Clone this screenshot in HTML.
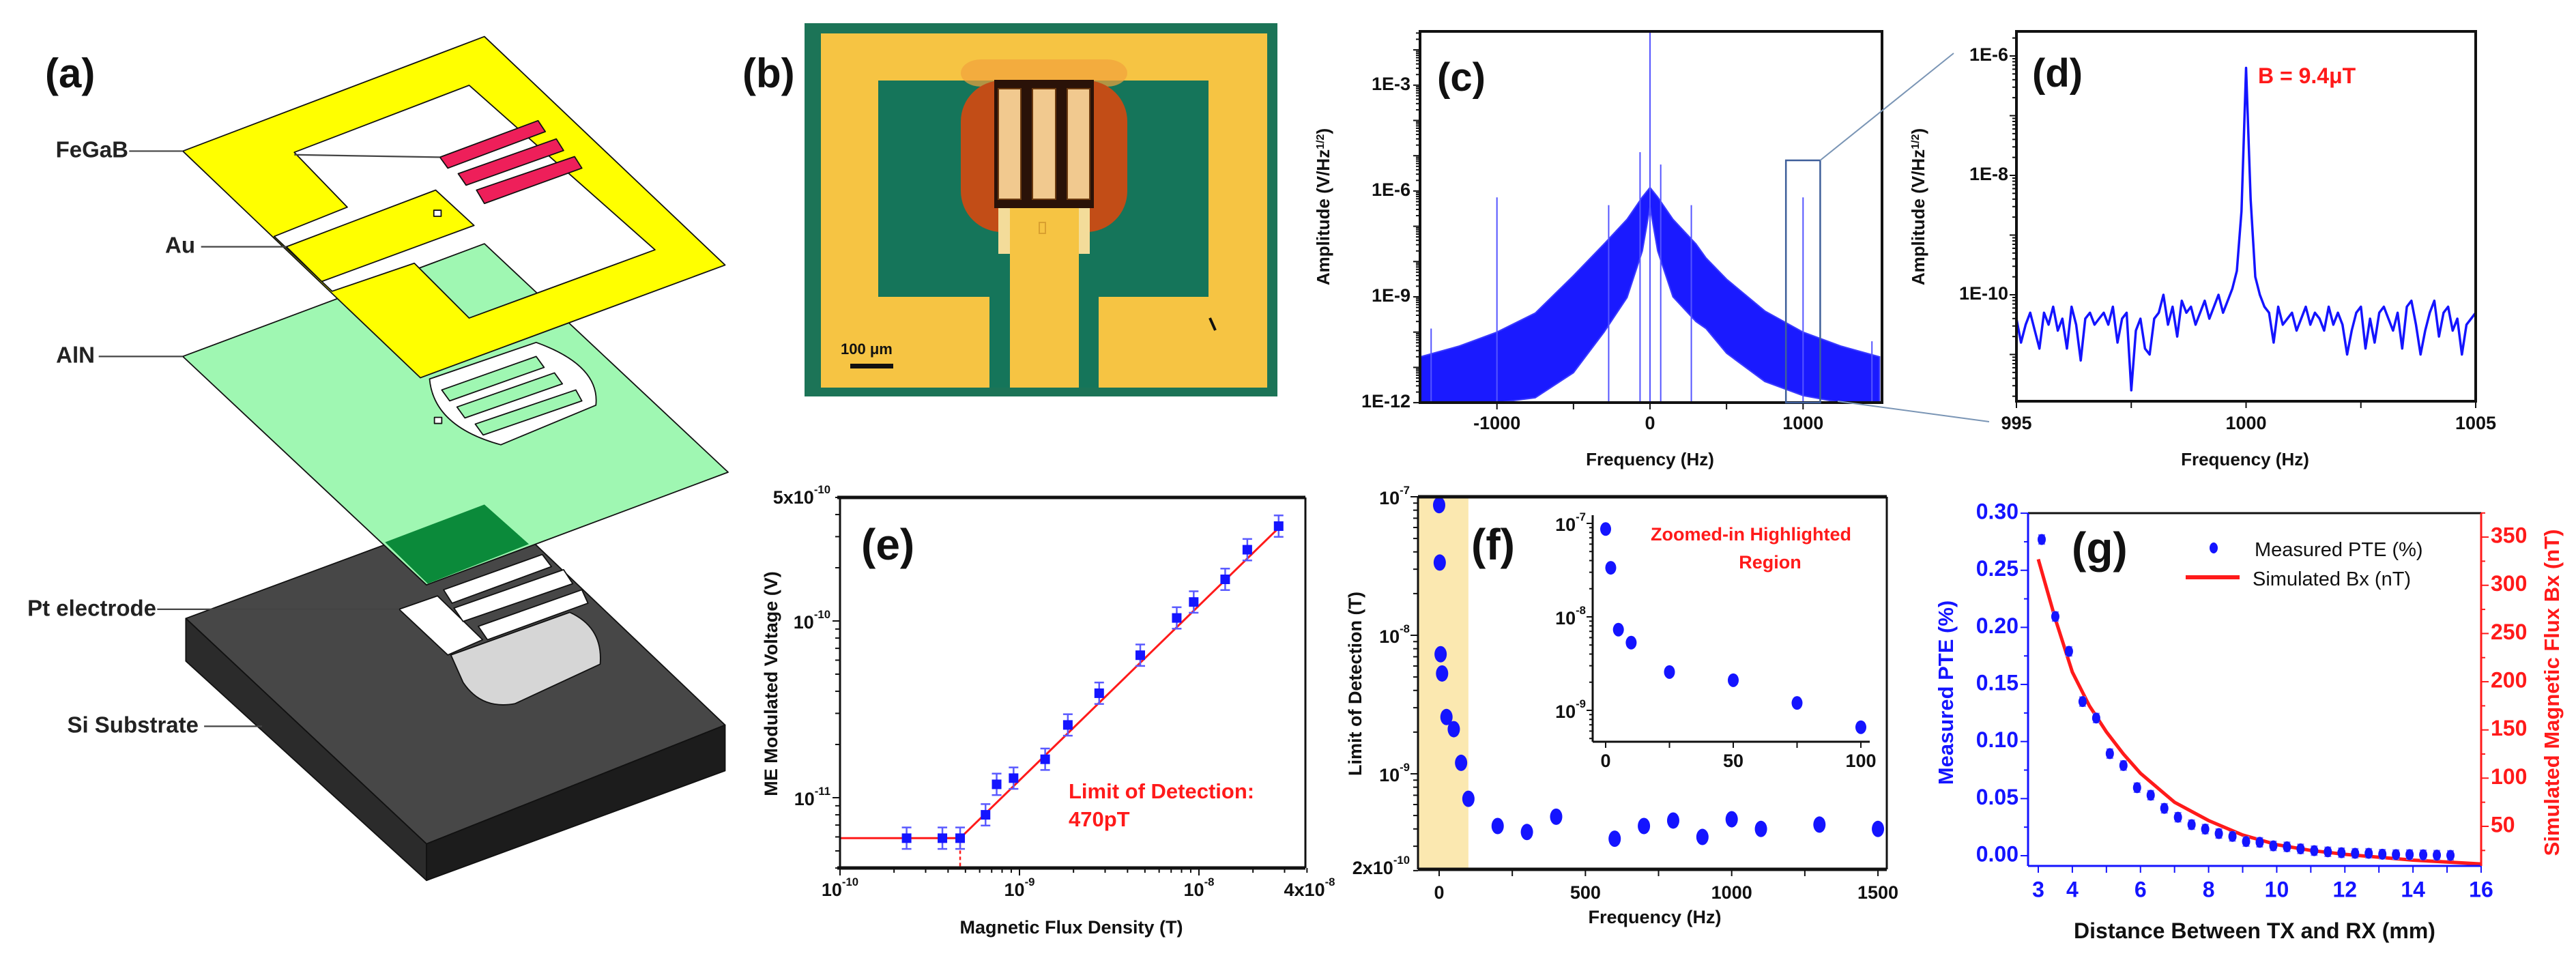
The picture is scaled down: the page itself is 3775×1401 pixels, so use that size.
<!DOCTYPE html>
<html><head><meta charset="utf-8"><style>
html,body{margin:0;padding:0;background:#fff;}
svg{display:block;}
text{font-family:"Liberation Sans",Arial,sans-serif;}
</style></head><body>
<svg id="fig" xmlns="http://www.w3.org/2000/svg" width="3775" height="1401" viewBox="0 0 3775 1401">
<rect x="0" y="0" width="3775" height="1401" fill="#fff"/>

<!-- Panel a: exploded device schematic -->
<g>
 <g transform="scale(0.8929)" stroke="#111" stroke-width="2" stroke-linejoin="round">
  <polygon points="305,1015 810,828 1190,1190 700,1385" fill="#474747"/>
  <polygon points="305,1015 700,1385 700,1445 305,1085" fill="#2b2b2b"/>
  <polygon points="700,1385 1190,1190 1190,1265 700,1445" fill="#1c1c1c"/>
  <path d="M740,1075 L935,1005 Q990,1030 985,1090 L845,1155 Q790,1165 760,1120 Z" fill="#d6d6d6"/>
  <polygon points="655,1000 718,978 792,1050 735,1075" fill="#fff"/>
  <polygon points="728,968 890,910 905,930 742,990" fill="#fff"/>
  <polygon points="745,998 925,935 940,958 760,1020" fill="#fff"/>
  <polygon points="785,1028 955,968 965,990 800,1050" fill="#fff"/>
  <polygon points="300,585 795,400 1195,775 700,960" fill="#9ff7b2"/>
  <polygon points="632,890 795,828 868,893 702,958" fill="#0b8a3a" stroke="none"/>
  <path d="M705,622 L880,562 Q985,600 978,665 L822,730 Q712,700 705,622 Z" fill="#fff"/>
  <polygon points="725,640 880,585 893,603 738,658" fill="#9ff7b2"/>
  <polygon points="750,668 910,612 923,630 763,686" fill="#9ff7b2"/>
  <polygon points="780,696 945,640 955,658 793,714" fill="#9ff7b2"/>
  <rect x="713" y="685" width="12" height="10" fill="#fff"/>
  <path fill-rule="evenodd" fill="#ffff00" d="M300,248 L795,60 L1190,435 L690,620 Z M483,250 L770,140 L1075,410 L770,522 L680,432 L545,478 L450,388 L570,340 Z"/>
  <polygon points="470,405 715,312 778,370 528,462" fill="#ffff00"/>
  <rect x="712" y="345" width="12" height="10" fill="#fff"/>
  <polygon points="722,258 883,198 895,216 735,276" fill="#ee1f5a"/>
  <polygon points="752,285 913,228 925,247 765,304" fill="#ee1f5a"/>
  <polygon points="782,312 943,257 955,276 795,334" fill="#ee1f5a"/>
  <g stroke="#444" stroke-width="2.5" fill="none">
   <line x1="212" y1="248" x2="300" y2="248"/>
   <line x1="483" y1="254" x2="722" y2="258"/>
   <line x1="330" y1="405" x2="470" y2="405"/>
   <line x1="162" y1="585" x2="300" y2="585"/>
   <line x1="258" y1="1000" x2="655" y2="1000"/>
   <line x1="335" y1="1192" x2="430" y2="1192"/>
  </g>
 </g>
 <g font-weight="bold" font-size="33" fill="#222" text-anchor="end" dominant-baseline="middle">
  <text x="188" y="222">FeGaB</text>
  <text x="286" y="362">Au</text>
  <text x="139" y="523">AlN</text>
  <text x="229" y="894">Pt electrode</text>
  <text x="291" y="1065">Si Substrate</text>
 </g>
 <text x="66" y="128" font-size="60" font-weight="bold" fill="#111">(a)</text>
</g>

<!-- Panel b: micrograph -->
<g>
 <rect x="1179" y="34" width="693" height="547" fill="#1c7457"/>
 <rect x="1203" y="49" width="654" height="519" fill="#f6c443"/>
 <rect x="1287" y="118" width="484" height="317" fill="#15755a"/>
 <rect x="1450" y="435" width="30" height="133" fill="#15755a"/>
 <rect x="1581" y="435" width="29" height="133" fill="#15755a"/>
 <rect x="1408" y="87" width="244" height="40" rx="30" fill="#f2a23c" opacity="0.7"/>
 <rect x="1408" y="118" width="244" height="222" rx="60" fill="#c24d17"/>
 <rect x="1457" y="117" width="146" height="188" fill="#2a1208"/>
 <rect x="1463" y="130" width="33" height="162" fill="#f1c98f" stroke="#6b3a10" stroke-width="2"/>
 <rect x="1513" y="130" width="34" height="162" fill="#f1c98f" stroke="#6b3a10" stroke-width="2"/>
 <rect x="1564" y="130" width="33" height="162" fill="#f1c98f" stroke="#6b3a10" stroke-width="2"/>
 <rect x="1463" y="305" width="134" height="67" fill="#f3dc9a"/>
 <rect x="1480" y="305" width="101" height="263" fill="#f6c443"/>
 <rect x="1523" y="326" width="9" height="16" fill="none" stroke="#d9a030" stroke-width="2"/>
 <line x1="1773" y1="466" x2="1781" y2="484" stroke="#111" stroke-width="4"/>
 <text x="1232" y="519" font-size="22" font-weight="bold" fill="#111">100 μm</text>
 <rect x="1246" y="533" width="63" height="7" fill="#111"/>
 <text x="1088" y="128" font-size="60" font-weight="bold" fill="#111">(b)</text>
</g>

<g id="charts"></g>

<!-- static titles/annotations -->
<g font-weight="bold" fill="#111">
 <text x="2106" y="133" font-size="58">(c)</text>
 <text x="2978" y="127" font-size="58">(d)</text>
 <text x="1262" y="820" font-size="64">(e)</text>
 <text x="2156" y="820" font-size="64">(f)</text>
 <text x="3036" y="825" font-size="64">(g)</text>
 <text transform="translate(1948,303) rotate(-90)" text-anchor="middle" font-size="26">Amplitude (V/Hz<tspan baseline-shift="super" font-size="16">1/2</tspan>)</text>
 <text x="2418" y="682" text-anchor="middle" font-size="26">Frequency (Hz)</text>
 <text transform="translate(2820,303) rotate(-90)" text-anchor="middle" font-size="26">Amplitude (V/Hz<tspan baseline-shift="super" font-size="16">1/2</tspan>)</text>
 <text x="3290" y="682" text-anchor="middle" font-size="26">Frequency (Hz)</text>
 <text x="3309" y="122" font-size="32" fill="#ff1a1a">B = 9.4μT</text>
 <text transform="translate(1139,1002) rotate(-90)" text-anchor="middle" font-size="27">ME Modulated Voltage (V)</text>
 <text x="1570" y="1368" text-anchor="middle" font-size="27">Magnetic Flux Density (T)</text>
 <text x="1566" y="1170" font-size="31" fill="#ff1a1a">Limit of Detection:</text>
 <text x="1566" y="1211" font-size="31" fill="#ff1a1a">470pT</text>
 <text transform="translate(1995,1002) rotate(-90)" text-anchor="middle" font-size="27">Limit of Detection (T)</text>
 <text x="2425" y="1353" text-anchor="middle" font-size="27">Frequency (Hz)</text>
 <text x="2566" y="792" text-anchor="middle" font-size="27" fill="#ff1a1a">Zoomed-in Highlighted</text>
 <text x="2594" y="833" text-anchor="middle" font-size="27" fill="#ff1a1a">Region</text>
 <text transform="translate(2862,1015) rotate(-90)" text-anchor="middle" font-size="31" fill="#1414ff">Measured PTE (%)</text>
 <text transform="translate(3750,1015) rotate(-90)" text-anchor="middle" font-size="31" fill="#ff1a1a">Simulated Magnetic Flux Bx (nT)</text>
 <text x="3304" y="1375" text-anchor="middle" font-size="32">Distance Between TX and RX (mm)</text>
 <text x="3304" y="815" font-size="29" font-weight="normal">Measured PTE (%)</text>
 <text x="3301" y="858" font-size="29" font-weight="normal">Simulated Bx (nT)</text>
</g>

<script>
// ---------- data ----------
// (c) spectrum envelopes (log10 amplitude)
const cEnvFreq = [-1500,-1250,-1000,-750,-500,-300,-150,-50,0,50,150,300,366,500,750,1000,1250,1500];
const cEnvUpper = [-10.7,-10.4,-10.0,-9.46,-8.4,-7.5,-6.8,-6.17,-5.9,-6.17,-6.8,-7.5,-7.9,-8.5,-9.4,-10.0,-10.4,-10.7];
const cEnvLower = [-12,-12,-12,-11.86,-11.15,-10.0,-9.02,-7.7,-6.45,-7.7,-9.0,-9.7,-9.9,-10.6,-11.4,-11.8,-12,-12];
const cSpikeFreq = [-1430,-1000,-270,-65,0,70,270,1000,1450];
const cSpikeLog = [-9.9,-6.18,-6.4,-4.9,-1.5,-5.25,-6.4,-6.18,-10.26];
// (d) zoomed spectrum, 995..1005 Hz step 0.1 (log10 amplitude)
const dStartHz = 995, dStepHz = 0.1;
const dLogAmp = [-10.4,-10.8,-10.5,-10.3,-10.6,-10.9,-10.3,-10.5,-10.2,-10.6,
 -10.4,-10.9,-10.2,-10.5,-11.1,-10.4,-10.3,-10.5,-10.4,-10.3,
 -10.5,-10.2,-10.8,-10.4,-10.3,-11.6,-10.6,-10.4,-10.9,-11.0,
 -10.4,-10.3,-10.0,-10.5,-10.2,-10.7,-10.1,-10.3,-10.2,-10.5,
 -10.3,-10.1,-10.4,-10.2,-10.0,-10.3,-10.1,-9.9,-9.6,-8.6,
 -6.2,
 -8.4,-9.7,-10.0,-10.2,-10.3,-10.8,-10.2,-10.5,-10.4,
 -10.3,-10.6,-10.4,-10.2,-10.5,-10.3,-10.4,-10.6,-10.2,-10.5,
 -10.3,-10.5,-11.0,-10.6,-10.3,-10.2,-10.9,-10.4,-10.8,-10.3,
 -10.2,-10.4,-10.6,-10.3,-10.9,-10.2,-10.1,-10.5,-11.0,-10.6,
 -10.3,-10.1,-10.7,-10.3,-10.2,-10.6,-10.4,-11.0,-10.5,-10.4,
 -10.3];
// (e) ME voltage vs flux density
const eFlux = [2.35e-10,3.72e-10,4.67e-10,6.47e-10,7.46e-10,9.27e-10,1.39e-9,1.86e-9,2.78e-9,4.71e-9,7.52e-9,9.35e-9,1.40e-8,1.86e-8,2.78e-8];
const eVolt = [5.9e-12,5.9e-12,5.9e-12,8.0e-12,1.19e-11,1.29e-11,1.65e-11,2.58e-11,3.9e-11,6.4e-11,1.04e-10,1.28e-10,1.72e-10,2.53e-10,3.44e-10];
const eFitX = [1e-10,4.67e-10,2.9e-8];
const eFitY = [5.9e-12,5.9e-12,3.5e-10];
const eLOD = 4.67e-10;
// (f) limit of detection vs frequency
const fFreq = [0,2,5,10,25,50,75,100,200,300,400,600,700,800,900,1000,1100,1300,1500];
const fLOD = [8.7e-8,3.35e-8,7.3e-9,5.3e-9,2.57e-9,2.1e-9,1.2e-9,6.6e-10,4.2e-10,3.8e-10,4.9e-10,3.4e-10,4.2e-10,4.6e-10,3.5e-10,4.7e-10,4.0e-10,4.3e-10,4.0e-10];
const fInsetMaxHz = 100;
// (g) PTE and simulated Bx vs distance
const gDist = [3.1,3.5,3.9,4.3,4.7,5.1,5.5,5.9,6.3,6.7,7.1,7.5,7.9,8.3,8.7,9.1,9.5,9.9,10.3,10.7,11.1,11.5,11.9,12.3,12.7,13.1,13.5,13.9,14.3,14.7,15.1];
const gPTE = [0.277,0.2095,0.179,0.135,0.1206,0.0894,0.079,0.0596,0.053,0.0415,0.0337,0.0272,0.0233,0.0194,0.0169,0.0124,0.0117,0.0086,0.0078,0.006,0.0044,0.0034,0.0026,0.0021,0.0021,0.0013,0.001,0.001,0.0008,0.0005,0.0003];
const gSimDist = [3,3.5,4,4.5,5,5.5,6,7,8,9,10,11,12,13,14,15,16];
const gSimBx = [327,265,210,175,148,125,105,75,56,41,31,25,21,18,15,13,11];
// tick labels
const cXTicks = [-1000,0,1000];
const cYTickExp = [-3,-6,-9,-12];
const dXTicks = [995,1000,1005];
const dYTickExp = [-6,-8,-10];
const gXTicks = [3,4,6,8,10,12,14,16];
const gYTicks = [0,0.05,0.10,0.15,0.20,0.25,0.30];
const gY2Ticks = [50,100,150,200,250,300,350];

// ---------- helpers ----------
const NS = 'http://www.w3.org/2000/svg';
const root = document.getElementById('charts');
function mk(tag, parent, attrs){
  const e = document.createElementNS(NS, tag);
  for (const k in attrs) e.setAttribute(k, attrs[k]);
  parent.appendChild(e);
  return e;
}
function group(name){
  const g = mk('g', root, {});
  
  
  return g;
}
function line(parent, x1,y1,x2,y2, stroke, w, name){
  const l = mk('line', parent, {x1:x1,y1:y1,x2:x2,y2:y2,stroke:stroke,'stroke-width':w});
  
  
  return l;
}
function label(parent, x, y, txt, anchor, size, fill, name){
  const t = mk('text', parent, {x:x,y:y,'text-anchor':anchor,'font-size':size,'font-weight':'bold',fill:fill,'dominant-baseline':'middle'});
  t.textContent = txt;
  
  
  return t;
}
function supLabel(parent, x, y, pre, exp, anchor, size, name){
  const t = mk('text', parent, {x:x,y:y,'text-anchor':anchor,'font-size':size,'font-weight':'bold',fill:'#111','dominant-baseline':'middle'});
  
  
  const a = mk('tspan', t, {}); a.textContent = pre + '10';
  const b = mk('tspan', t, {dy: -size*0.45, 'font-size': size*0.62}); b.textContent = exp;
  return t;
}
const lg = Math.log10;
function pathFrom(pts){ return pts.map((p,i)=>(i?'L':'M')+p[0].toFixed(1)+','+p[1].toFixed(1)).join(''); }
function logMinor(lo, hi){ // values within [10^lo, 10^hi]
  const out=[]; for(let d=Math.floor(lo); d<=Math.ceil(hi); d++) for(let m=1;m<10;m++){ const v=lg(m)+d; if(v>=lo-1e-9&&v<=hi+1e-9) out.push([v,m===1]); } return out;
}

// ---------- panel c ----------
(function(){
  const L=2081,R=2758,T=46,B=590;
  const x=f=>2418+f*0.2243, y=l=>435-(l+9)*51.7;
  const g = group('panel-c-spectrum');
  const up = cEnvFreq.map((f,i)=>[x(f),y(cEnvUpper[i])]);
  const lo = cEnvFreq.map((f,i)=>[x(f),y(cEnvLower[i])]).reverse();
  const band = mk('path', g, {d: pathFrom(up.concat(lo))+'Z', fill:'#1a1aff', stroke:'#3a3aff','stroke-width':2});
  
  
  cSpikeFreq.forEach((f,i)=>{
    const s = line(g, x(f), y(-12), x(f), Math.max(T, y(cSpikeLog[i])), '#5555ff', 2, 'c-spectral-spike');
  });
  const fr = mk('rect', g, {x:L,y:T,width:R-L,height:B-T,fill:'none',stroke:'#111','stroke-width':4});
  
  
  logMinor(-12, -9+(435-T)/51.7).forEach(([v,maj])=>line(g, L, y(v), L-(maj?10:6), y(v), '#111', 2, 'c-y-tick'));
  cYTickExp.forEach(e=>label(g, L-14, y(e), '1E'+e, 'end', 27, '#111', 'c-y-tick-label'));
  [-1000,-500,0,500,1000].forEach(f=>line(g, x(f), B, x(f), B+10, '#111', 2, 'c-x-tick'));
  cXTicks.forEach(f=>label(g, x(f), 622, String(f), 'middle', 27, '#111', 'c-x-tick-label'));
  const hb = mk('rect', g, {x:x(888),y:235,width:x(1112)-x(888),height:B-235,fill:'none',stroke:'#3f5f9a','stroke-width':2.5});
  
  
  line(g, x(1112), 235, 2863, 78, '#7a95b5', 2, 'zoom-connector-top');
  line(g, 2693, 588, 2915, 618, '#7a95b5', 2, 'zoom-connector-bottom');
})();

// ---------- panel d ----------
(function(){
  const L=2955,R=3628,T=46,B=588;
  const x=f=>L+(f-995)*67.3, y=l=>82-(l+6)*87.5;
  const g = group('panel-d-zoomed-spectrum');
  const pts = dLogAmp.map((v,i)=>[x(dStartHz+i*dStepHz), y(v)]);
  const p = mk('path', g, {d:pathFrom(pts), fill:'none', stroke:'#1414ff','stroke-width':3.5,'stroke-linejoin':'round'});
  
  
  const fr = mk('rect', g, {x:L,y:T,width:R-L,height:B-T,fill:'none',stroke:'#111','stroke-width':4});
  
  
  logMinor(-6-(B-82)/87.5, -6+(82-T)/87.5).forEach(([v,maj])=>line(g, L, y(v), L-(maj?10:6), y(v), '#111', 2, 'd-y-tick'));
  dYTickExp.forEach(e=>label(g, L-12, y(e), '1E'+e, 'end', 27, '#111', 'd-y-tick-label'));
  [995,997.5,1000,1002.5,1005].forEach(f=>line(g, x(f), B, x(f), B+10, '#111', 2, 'd-x-tick'));
  dXTicks.forEach(f=>label(g, x(f), 622, String(f), 'middle', 27, '#111', 'd-x-tick-label'));
})();

// ---------- panel e ----------
(function(){
  const L=1231,R=1913,T=729,B=1272;
  const x=v=>L+(lg(v)+10)*263, y=v=>910-(lg(v)+10)*259;
  const g = group('panel-e-me-voltage');
  const fit = mk('path', g, {d:pathFrom(eFitX.map((v,i)=>[x(v),y(eFitY[i])])), fill:'none', stroke:'#ff1a1a','stroke-width':3});
  
  
  const dl = line(g, x(eLOD), y(eFitY[1]), x(eLOD), B, '#ff1a1a', 2.5, 'e-lod-marker');
  dl.setAttribute('stroke-dasharray','5,4');
  eFlux.forEach((v,i)=>{
    const cx=x(v), cy=y(eVolt[i]), e1=y(eVolt[i]*1.15), e2=y(eVolt[i]/1.15);
    line(g, cx, e1, cx, e2, '#5a5aff', 2.5, 'e-error-bar');
    line(g, cx-7, e1, cx+7, e1, '#5a5aff', 2.5, 'e-error-cap');
    line(g, cx-7, e2, cx+7, e2, '#5a5aff', 2.5, 'e-error-cap');
    const r = mk('rect', g, {x:cx-7,y:cy-7,width:14,height:14,fill:'#1414ff'});
    
    
  });
  line(g, L-4, T, R, T, '#111', 5, 'e-top-axis');
  line(g, L-4, B, R, B, '#111', 5, 'e-bottom-axis');
  line(g, L, T, L, B, '#111', 3, 'e-left-axis');
  line(g, R, T, R, B, '#111', 3, 'e-right-axis');
  logMinor(lg(4e-12), lg(5e-10)).forEach(([v,maj])=>line(g, L, y(Math.pow(10,v)), L-(maj?11:7), y(Math.pow(10,v)), '#111', 2, 'e-y-tick'));
  logMinor(-10, lg(4e-8)).forEach(([v,maj])=>line(g, x(Math.pow(10,v)), B, x(Math.pow(10,v)), B+(maj?11:7), '#111', 2, 'e-x-tick'));
  supLabel(g, L-14, T+2, '5x', '-10', 'end', 27, 'e-y-tick-label');
  supLabel(g, L-14, y(1e-10)+4, '', '-10', 'end', 27, 'e-y-tick-label');
  supLabel(g, L-14, y(1e-11)+4, '', '-11', 'end', 27, 'e-y-tick-label');
  supLabel(g, x(1e-10), 1306, '', '-10', 'middle', 27, 'e-x-tick-label');
  supLabel(g, x(1e-9), 1306, '', '-9', 'middle', 27, 'e-x-tick-label');
  supLabel(g, x(1e-8), 1306, '', '-8', 'middle', 27, 'e-x-tick-label');
  supLabel(g, R+6, 1306, '4x', '-8', 'middle', 27, 'e-x-tick-label');
})();

// ---------- panel f ----------
(function(){
  const L=2078,R=2765,T=728,B=1274;
  const x=f=>2109+f*0.4287, y=v=>728-(lg(v)+7)*203;
  const g = group('panel-f-lod');
  const band = mk('rect', g, {x:L,y:T,width:x(fInsetMaxHz)-L,height:B-T,fill:'#fbe8b0'});
  
  
  fFreq.forEach((f,i)=>{
    const c = mk('ellipse', g, {cx:x(f),cy:y(fLOD[i]),rx:9,ry:12,fill:'#1414ff'});
    
    
  });
  line(g, L, T, R, T, '#111', 5, 'f-top-axis');
  line(g, L, B, R, B, '#111', 5, 'f-bottom-axis');
  line(g, L, T, L, B, '#111', 3, 'f-left-axis');
  line(g, R, T, R, B, '#111', 3, 'f-right-axis');
  logMinor(lg(2e-10), -7).forEach(([v,maj])=>line(g, L, y(Math.pow(10,v)), L-(maj?11:7), y(Math.pow(10,v)), '#111', 2, 'f-y-tick'));
  [0,250,500,750,1000,1250,1500].forEach(f=>line(g, x(f), B, x(f), B+10, '#111', 2, 'f-x-tick'));
  [0,500,1000,1500].forEach(f=>label(g, x(f), 1310, String(f), 'middle', 27, '#111', 'f-x-tick-label'));
  supLabel(g, L-12, T+4, '', '-7', 'end', 27, 'f-y-tick-label');
  supLabel(g, L-12, y(1e-8)+4, '', '-8', 'end', 27, 'f-y-tick-label');
  supLabel(g, L-12, y(1e-9)+4, '', '-9', 'end', 27, 'f-y-tick-label');
  supLabel(g, L-12, B, '2x', '-10', 'end', 27, 'f-y-tick-label');
  // inset
  const ix=f=>2353+f*3.74, iy=v=>767-(lg(v)+7)*137;
  const IL=2334, IB=1087, IT=755, IR=2740;
  const ig = mk('g', g, {});
  
  
  fFreq.forEach((f,i)=>{
    if (f > fInsetMaxHz) return;
    const c = mk('ellipse', ig, {cx:ix(f),cy:iy(fLOD[i]),rx:8,ry:10,fill:'#1414ff'});
    
    
  });
  line(ig, IL, IT, IL, IB, '#111', 3, 'inset-y-axis');
  line(ig, IL, IB, IR, IB, '#111', 3, 'inset-x-axis');
  logMinor(-7-(IB-767)/137, -7).forEach(([v,maj])=>line(ig, IL, iy(Math.pow(10,v)), IL-(maj?9:5), iy(Math.pow(10,v)), '#111', 2, 'inset-y-tick'));
  [0,25,50,75,100].forEach(f=>line(ig, ix(f), IB, ix(f), IB+9, '#111', 2, 'inset-x-tick'));
  [0,50,100].forEach(f=>label(ig, ix(f), 1117, String(f), 'middle', 27, '#111', 'inset-x-tick-label'));
  supLabel(ig, IL-10, iy(1e-7)+4, '', '-7', 'end', 27, 'inset-y-tick-label');
  supLabel(ig, IL-10, iy(1e-8)+4, '', '-8', 'end', 27, 'inset-y-tick-label');
  supLabel(ig, IL-10, iy(1e-9)+4, '', '-9', 'end', 27, 'inset-y-tick-label');
})();

// ---------- panel g ----------
(function(){
  const L=2972,R=3636,T=752,B=1269;
  const x=d=>2987+(d-3)*49.92, y=p=>1254-p*1673, y2=b=>1211-(b-50)*1.413;
  const g = group('panel-g-pte');
  const sim = mk('path', g, {d:pathFrom(gSimDist.map((d,i)=>[x(d),y2(gSimBx[i])])), fill:'none', stroke:'#ff1a1a','stroke-width':5});
  
  
  gDist.forEach((d,i)=>{
    const cx=x(d), cy=y(gPTE[i]);
    line(g, cx, y(gPTE[i]+0.004), cx, y(gPTE[i]-0.004), '#7a7aff', 2.5, 'g-error-bar');
    line(g, cx-5, y(gPTE[i]+0.004), cx+5, y(gPTE[i]+0.004), '#7a7aff', 2, 'g-error-cap');
    line(g, cx-5, y(gPTE[i]-0.004), cx+5, y(gPTE[i]-0.004), '#7a7aff', 2, 'g-error-cap');
    const c = mk('ellipse', g, {cx:cx,cy:cy,rx:6,ry:8,fill:'#1414ff'});
    
    
  });
  line(g, L, T, R, T, '#111', 3, 'g-top-axis');
  line(g, L, B, R, B, '#1414ff', 3, 'g-bottom-axis');
  line(g, L, T, L, B, '#1414ff', 3, 'g-left-axis');
  line(g, R, T, R, B, '#ff1a1a', 3, 'g-right-axis');
  for (let v=0; v<=0.30001; v+=0.025) line(g, L, y(v), L-(Math.round(v*1000)%50===0?11:6), y(v), '#1414ff', 2, 'g-y-tick');
  gYTicks.forEach(v=>label(g, L-14, y(v), v.toFixed(2), 'end', 32, '#1414ff', 'g-y-tick-label'));
  for (let v=25; v<=375; v+=25) line(g, R, y2(v), R+(v%50===0?11:6), y2(v), '#ff1a1a', 2, 'g-y2-tick');
  gY2Ticks.forEach(v=>label(g, R+14, y2(v), String(v), 'start', 32, '#ff1a1a', 'g-y2-tick-label'));
  for (let d=3; d<=16; d+=1) line(g, x(d), B, x(d), B+10, '#1414ff', 2, 'g-x-tick');
  gXTicks.forEach(d=>label(g, x(d), 1306, String(d), 'middle', 32, '#1414ff', 'g-x-tick-label'));
  const lm = mk('ellipse', g, {cx:3244,cy:803,rx:6,ry:8,fill:'#1414ff'});
  
  
  line(g, 3203, 846, 3282, 846, '#ff1a1a', 6, 'legend-simulated-line');
})();
</script>
</svg>
</body></html>
